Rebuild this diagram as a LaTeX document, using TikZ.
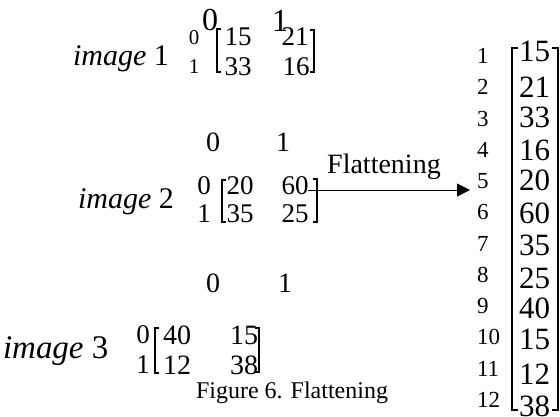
\documentclass[tikz,border=0pt]{standalone}
\usepackage{fontspec}
\setmainfont{Liberation Serif}
\usetikzlibrary{arrows.meta}
\newcommand{\fsz}[1]{\fontsize{#1}{#1}\selectfont}
\begin{document}
\begin{tikzpicture}[x=1pt,y=-1pt,
  txt/.style={inner sep=0pt,outer sep=0pt,anchor=center},
  hd/.style={txt,font=\fsz{#1}},
  lbl/.style={inner sep=0pt,outer sep=0pt,anchor=base west,font=\fsz{#1}\itshape},
  brk/.style={line width=1.2pt},
  vbrk/.style={line width=2pt},
  arr/.style={line width=1pt,-{Triangle[length=13pt,width=13pt]}}]
\useasboundingbox (0,0) rectangle (560,416);

% ---------- matrix 1 ----------
\node[lbl=30] (im1) at (73,65) {image \upshape 1};
\node[hd=32] (h1a) at (210,20) {0};
\node[hd=32] (h1b) at (280,21) {1};
\node[hd=21] (r1a) at (194,38) {0};
\node[hd=21] (r1b) at (194,67) {1};
\node[hd=27] (e1aa) at (238,37) {15};
\node[hd=27] (e1ab) at (295,37) {21};
\node[hd=27] (e1ba) at (238,67) {33};
\node[hd=27] (e1bb) at (296,67) {16};
\draw[brk] (221,29) -- (217,29) -- (217,72) -- (221,72);
\draw[brk] (310,30) -- (314,30) -- (314,72) -- (310,72);

% ---------- matrix 2 ----------
\node[lbl=30] (im2) at (78,208) {image \upshape 2};
\node[hd=28] (h2a) at (213,142) {0};
\node[hd=28] (h2b) at (283,142) {1};
\node[hd=27] (r2a) at (204,186) {0};
\node[hd=27] (r2b) at (204,214) {1};
\node[hd=27] (e2aa) at (240,186) {20};
\node[hd=27] (e2ab) at (295,186) {60};
\node[hd=27] (e2ba) at (240,214) {35};
\node[hd=27] (e2bb) at (295,214) {25};
\draw[brk] (226,180) -- (222,180) -- (222,222) -- (226,222);
\draw[brk] (313,179) -- (317,179) -- (317,222) -- (313,222);

% ---------- matrix 3 ----------
\node[lbl=33] (im3) at (3,358) {image \upshape 3};
\node[hd=28] (h3a) at (213,283) {0};
\node[hd=28] (h3b) at (285,283) {1};
\node[hd=27] (r3a) at (143,335) {0};
\node[hd=27] (r3b) at (143,365) {1};
\node[hd=28] (e3aa) at (177,335) {40};
\node[hd=28] (e3ab) at (244,335) {15};
\node[hd=28] (e3ba) at (177,365) {12};
\node[hd=28] (e3bb) at (244,365) {38};
\draw[brk] (159,328) -- (155,328) -- (155,373) -- (159,373);
\draw[brk] (255,328) -- (259,328) -- (259,372) -- (255,372);

% ---------- arrow ----------
\node[inner sep=0pt,anchor=base west,font=\fsz{28}] (flat) at (327,173) {Flattening};
\coordinate (a0) at (308,190);
\coordinate (a1) at (470,190);
\draw[arr] (a0) -- (a1);

% ---------- caption ----------
\node[inner sep=0pt,anchor=base,font=\fsz{24}] (cap) at (292,398) {Figure 6. Flattening};

% ---------- vector ----------
\foreach \i in {1,...,12}{
  \node[txt,anchor=west,font=\fsz{23}] (vl\i) at (477,{56+31.27*(\i-1)}) {\i};
}
\foreach \v/\y [count=\k] in {15/51,21/87,33/117,16/150,20/180,60/213,35/245,25/278,40/308,15/339,12/374,38/406}{
  \node[txt,anchor=west,font=\fsz{31}] (ve\k) at (519,\y) {\v};
}
\draw[vbrk] (518,48) -- (512,48) -- (512,410) -- (518,410);
\draw[vbrk] (552,48) -- (558,48) -- (558,410) -- (552,410);
\end{tikzpicture}
\end{document}
